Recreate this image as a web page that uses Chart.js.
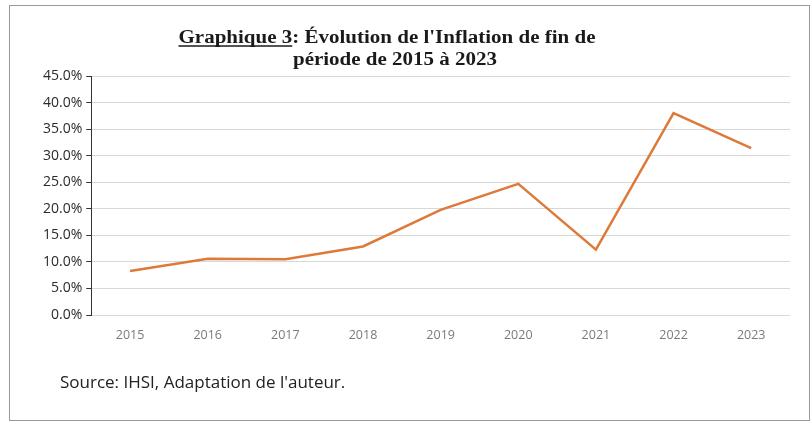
<!DOCTYPE html>
<html>
<head>
<meta charset="utf-8">
<script src="https://cdn.jsdelivr.net/npm/chart.js@4"></script>
<style>
  html, body { margin: 0; padding: 0; background: #ffffff; }
  #wrap { width: 812px; height: 425px; position: relative; }
</style>
</head>
<body>
<div id="wrap"><canvas id="myChart" width="812" height="425"></canvas></div>
<script>
// data (inflation de fin de période, %)
const years = ["2015", "2016", "2017", "2018", "2019", "2020", "2021", "2022", "2023"];
const inflation = [8.3, 10.6, 10.5, 12.9, 19.8, 24.7, 12.3, 38.0, 31.4];
const yTicks = [0, 5, 10, 15, 20, 25, 30, 35, 40, 45];

const titleLine1a = "Graphique 3";
const titleLine1b = ": Évolution de l'Inflation de fin de";
const titleLine2 = "période de 2015 à 2023";
const sourceText = "Source: IHSI, Adaptation de l'auteur.";

/* frame, title with the underlined "Graphique 3", and the source line */
const decorPlugin = {
    id: 'decor',
    beforeDraw(chart) {
        let ctx = chart.ctx;
        ctx.save();
        ctx.fillStyle = '#ffffff';
        ctx.fillRect(0, 0, chart.width, chart.height);
        ctx.strokeStyle = '#9a9a9a';
        ctx.lineWidth = 1;
        ctx.strokeRect(9.5, 5.5, 800, 415);
        ctx.restore();
    },
    afterDraw(chart) {
        let ctx = chart.ctx;
        ctx.save();
        ctx.fillStyle = '#1a1a1a';
        ctx.textBaseline = 'alphabetic';
        ctx.font = 'bold 18px "Liberation Serif"';
        let wA = ctx.measureText(titleLine1a).width;
        let wB = ctx.measureText(titleLine1b).width;
        // the scanned title is a bit wider than the font: stretch it horizontally
        let sx = 417 / (wA + wB);
        ctx.translate(387, 0);
        ctx.scale(sx, 1);
        let x0 = -(wA + wB) / 2;
        ctx.textAlign = 'left';
        ctx.fillText(titleLine1a, x0, 43);
        ctx.fillText(titleLine1b, x0 + wA, 43);
        ctx.strokeStyle = '#1a1a1a';
        ctx.lineWidth = 1.3;
        ctx.beginPath();
        ctx.moveTo(x0, 46);
        ctx.lineTo(x0 + wA, 46);
        ctx.stroke();
        ctx.textAlign = 'center';
        ctx.fillText(titleLine2, 8 / sx, 65);
        ctx.restore();

        ctx.save();
        ctx.textAlign = 'left';
        ctx.textBaseline = 'alphabetic';
        ctx.fillStyle = '#222222';
        ctx.font = '17px "Open Sans"';
        ctx.fillText(sourceText, 60, 388);
        ctx.restore();
    }
};

function renderChart() {
    let ctx = document.getElementById("myChart");
    let myChart = new Chart(ctx, {
        type: 'line',
        data: {
            labels: years,
            datasets: [{
                label: 'Inflation',
                data: inflation,
                borderColor: '#dd7a3a',
                backgroundColor: '#dd7a3a',
                borderWidth: 2.5,
                pointRadius: 0,
                tension: 0,
                fill: false
            }]
        },
        options: {
            responsive: false,
            animation: false,
            layout: { padding: { top: 76, left: 39, right: 22, bottom: 77 } },
            plugins: {
                legend: { display: false },
                title: { display: false },
                tooltip: { enabled: false }
            },
            scales: {
                x: {
                    offset: true,
                    grid: { display: false },
                    border: { display: false },
                    ticks: {
                        color: '#7a7a7a',
                        font: { family: '"Open Sans"', size: 12.5 },
                        padding: 5,
                        maxRotation: 0
                    }
                },
                y: {
                    min: 0,
                    max: 45,
                    afterBuildTicks(axis) {
                        axis.ticks = yTicks.map(v => ({ value: v }));
                    },
                    border: { display: true, color: '#333333', width: 1 },
                    grid: {
                        color: '#d8d8d8',
                        borderDash: [2, 2],
                        tickColor: '#333333',
                        tickLength: 5,
                        tickBorderDash: [],
                        tickWidth: 1
                    },
                    ticks: {
                        color: '#2a2a2a',
                        font: { family: '"Open Sans"', size: 14 },
                        padding: 4,
                        callback: v => v.toFixed(1) + '%'
                    }
                }
            }
        },
        plugins: [decorPlugin]
    });
}
renderChart();
</script>
</body>
</html>
